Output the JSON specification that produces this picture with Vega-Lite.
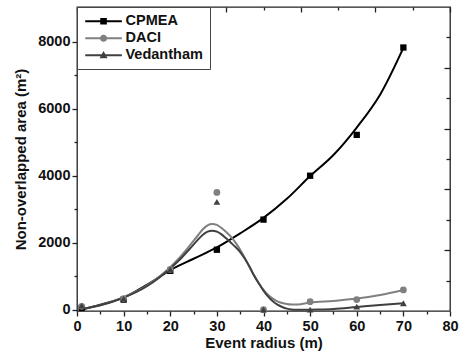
{
  "$schema": "https://vega.github.io/schema/vega-lite/v6.json",
  "width": 373,
  "height": 304,
  "autosize": {"type": "none"},
  "padding": {"left": 77, "top": 7, "right": 15, "bottom": 46},
  "background": "white",
  "config": {
    "view": {"stroke": "#222", "strokeWidth": 1.3},
    "font": "Liberation Sans",
    "axis": {
      "grid": false,
      "domain": false,
      "labelFont": "Liberation Sans",
      "labelFontWeight": "bold",
      "labelFontSize": 14.5,
      "labelColor": "#111",
      "titleFont": "Liberation Sans",
      "titleFontWeight": "bold",
      "titleFontSize": 15,
      "titleColor": "#111",
      "tickColor": "#222",
      "tickWidth": 1.3,
      "labelFlush": false
    }
  },
  "datasets": {
    "curves": [
      {"series": "CPMEA", "x": 1, "y": 0},
      {"series": "CPMEA", "x": 5, "y": 150},
      {"series": "CPMEA", "x": 10, "y": 360},
      {"series": "CPMEA", "x": 15, "y": 740},
      {"series": "CPMEA", "x": 20, "y": 1180},
      {"series": "CPMEA", "x": 25, "y": 1520},
      {"series": "CPMEA", "x": 30, "y": 1860},
      {"series": "CPMEA", "x": 35, "y": 2280},
      {"series": "CPMEA", "x": 40, "y": 2740},
      {"series": "CPMEA", "x": 45, "y": 3310},
      {"series": "CPMEA", "x": 50, "y": 3990},
      {"series": "CPMEA", "x": 55, "y": 4620},
      {"series": "CPMEA", "x": 60, "y": 5440},
      {"series": "CPMEA", "x": 65, "y": 6420},
      {"series": "CPMEA", "x": 70, "y": 7820},
      {"series": "DACI", "x": 1, "y": 20},
      {"series": "DACI", "x": 5, "y": 130},
      {"series": "DACI", "x": 10, "y": 370},
      {"series": "DACI", "x": 15, "y": 720},
      {"series": "DACI", "x": 20, "y": 1270},
      {"series": "DACI", "x": 22, "y": 1550},
      {"series": "DACI", "x": 24, "y": 1880},
      {"series": "DACI", "x": 26, "y": 2230},
      {"series": "DACI", "x": 27, "y": 2400},
      {"series": "DACI", "x": 28, "y": 2520},
      {"series": "DACI", "x": 29, "y": 2560},
      {"series": "DACI", "x": 30, "y": 2530},
      {"series": "DACI", "x": 31, "y": 2440},
      {"series": "DACI", "x": 32, "y": 2320},
      {"series": "DACI", "x": 33, "y": 2180},
      {"series": "DACI", "x": 34, "y": 2000},
      {"series": "DACI", "x": 35, "y": 1790},
      {"series": "DACI", "x": 36, "y": 1540},
      {"series": "DACI", "x": 37, "y": 1280},
      {"series": "DACI", "x": 38, "y": 1020},
      {"series": "DACI", "x": 39, "y": 790},
      {"series": "DACI", "x": 40, "y": 590},
      {"series": "DACI", "x": 41, "y": 440},
      {"series": "DACI", "x": 42, "y": 330},
      {"series": "DACI", "x": 43, "y": 250},
      {"series": "DACI", "x": 44, "y": 200},
      {"series": "DACI", "x": 45, "y": 170},
      {"series": "DACI", "x": 46, "y": 155},
      {"series": "DACI", "x": 47, "y": 155},
      {"series": "DACI", "x": 48, "y": 165},
      {"series": "DACI", "x": 50, "y": 210},
      {"series": "DACI", "x": 55, "y": 260},
      {"series": "DACI", "x": 60, "y": 330},
      {"series": "DACI", "x": 65, "y": 440},
      {"series": "DACI", "x": 70, "y": 590},
      {"series": "Vedantham", "x": 1, "y": 20},
      {"series": "Vedantham", "x": 5, "y": 130},
      {"series": "Vedantham", "x": 10, "y": 360},
      {"series": "Vedantham", "x": 15, "y": 700},
      {"series": "Vedantham", "x": 20, "y": 1230},
      {"series": "Vedantham", "x": 22, "y": 1490},
      {"series": "Vedantham", "x": 24, "y": 1790},
      {"series": "Vedantham", "x": 26, "y": 2100},
      {"series": "Vedantham", "x": 27, "y": 2240},
      {"series": "Vedantham", "x": 28, "y": 2330},
      {"series": "Vedantham", "x": 29, "y": 2360},
      {"series": "Vedantham", "x": 30, "y": 2330},
      {"series": "Vedantham", "x": 31, "y": 2250},
      {"series": "Vedantham", "x": 32, "y": 2130},
      {"series": "Vedantham", "x": 33, "y": 2000},
      {"series": "Vedantham", "x": 34, "y": 1870},
      {"series": "Vedantham", "x": 35, "y": 1720},
      {"series": "Vedantham", "x": 36, "y": 1520},
      {"series": "Vedantham", "x": 37, "y": 1280},
      {"series": "Vedantham", "x": 38, "y": 1010},
      {"series": "Vedantham", "x": 39, "y": 780},
      {"series": "Vedantham", "x": 40, "y": 570},
      {"series": "Vedantham", "x": 41, "y": 390},
      {"series": "Vedantham", "x": 42, "y": 250},
      {"series": "Vedantham", "x": 43, "y": 150},
      {"series": "Vedantham", "x": 44, "y": 80},
      {"series": "Vedantham", "x": 45, "y": 30},
      {"series": "Vedantham", "x": 46, "y": 5},
      {"series": "Vedantham", "x": 47, "y": 0},
      {"series": "Vedantham", "x": 48, "y": 0},
      {"series": "Vedantham", "x": 50, "y": 0},
      {"series": "Vedantham", "x": 52, "y": 5},
      {"series": "Vedantham", "x": 55, "y": 20},
      {"series": "Vedantham", "x": 60, "y": 80},
      {"series": "Vedantham", "x": 65, "y": 140},
      {"series": "Vedantham", "x": 70, "y": 195}
    ],
    "points": [
      {"series": "CPMEA", "x": 1, "y": 50},
      {"series": "CPMEA", "x": 10, "y": 300},
      {"series": "CPMEA", "x": 20, "y": 1160},
      {"series": "CPMEA", "x": 30, "y": 1790},
      {"series": "CPMEA", "x": 40, "y": 2690},
      {"series": "CPMEA", "x": 50, "y": 4000},
      {"series": "CPMEA", "x": 60, "y": 5220},
      {"series": "CPMEA", "x": 70, "y": 7830},
      {"series": "DACI", "x": 1, "y": 100},
      {"series": "DACI", "x": 10, "y": 330},
      {"series": "DACI", "x": 20, "y": 1200},
      {"series": "DACI", "x": 30, "y": 3500},
      {"series": "DACI", "x": 40, "y": 0},
      {"series": "DACI", "x": 50, "y": 240},
      {"series": "DACI", "x": 60, "y": 300},
      {"series": "DACI", "x": 70, "y": 590},
      {"series": "Vedantham", "x": 1, "y": 120},
      {"series": "Vedantham", "x": 10, "y": 330},
      {"series": "Vedantham", "x": 20, "y": 1200},
      {"series": "Vedantham", "x": 30, "y": 3220},
      {"series": "Vedantham", "x": 40, "y": 0},
      {"series": "Vedantham", "x": 50, "y": 0},
      {"series": "Vedantham", "x": 60, "y": 90},
      {"series": "Vedantham", "x": 70, "y": 190}
    ]
  },
  "layer": [
    {
      "data": {"name": "curves"},
      "mark": {"type": "line", "interpolate": "monotone", "strokeWidth": 2},
      "encoding": {
        "x": {
          "field": "x", "type": "quantitative",
          "scale": {"domain": [0, 80], "nice": false, "zero": false},
          "axis": {
            "orient": "bottom",
            "title": "Event radius (m)",
            "values": [0, 10, 20, 30, 40, 50, 60, 70, 80],
            "tickSize": 5,
            "labelPadding": 3,
            "titlePadding": 3
          }
        },
        "y": {
          "field": "y", "type": "quantitative",
          "scale": {"domain": [-40, 9040], "nice": false, "zero": false},
          "axis": {
            "orient": "left",
            "title": "Non-overlapped area (m²)",
            "values": [0, 2000, 4000, 6000, 8000],
            "format": "d",
            "tickSize": 5,
            "labelPadding": 2,
            "titlePadding": 9
          }
        },
        "color": {
          "field": "series", "type": "nominal",
          "scale": {"domain": ["CPMEA", "DACI", "Vedantham"], "range": ["#000000", "#808080", "#404040"]}
        }
      }
    },
    {
      "data": {"name": "points"},
      "transform": [{"filter": "datum.series === 'CPMEA'"}],
      "mark": {"type": "point", "shape": "square", "filled": true, "opacity": 1, "size": 40},
      "encoding": {
        "x": {
          "field": "x", "type": "quantitative",
          "scale": {"domain": [0, 80], "nice": false, "zero": false},
          "axis": {"orient": "bottom", "title": null, "labels": false, "values": [5, 15, 25, 35, 45, 55, 65, 75], "tickSize": 3}
        },
        "y": {
          "field": "y", "type": "quantitative",
          "scale": {"domain": [-40, 9040], "nice": false, "zero": false},
          "axis": {"orient": "left", "title": null, "labels": false, "values": [1000, 3000, 5000, 7000], "tickSize": 3}
        },
        "color": {
          "field": "series", "type": "nominal",
          "scale": {"domain": ["CPMEA", "DACI", "Vedantham"], "range": ["#000000", "#808080", "#404040"]}
        }
      }
    },
    {
      "data": {"name": "points"},
      "transform": [{"filter": "datum.series === 'DACI'"}],
      "mark": {"type": "point", "shape": "circle", "filled": true, "opacity": 1, "size": 46},
      "encoding": {
        "x": {
          "field": "x", "type": "quantitative",
          "scale": {"domain": [0, 80], "nice": false, "zero": false},
          "axis": {"orient": "top", "title": null, "labels": false, "values": [0, 16, 32, 48, 64, 80], "tickSize": 5, "offset": -5}
        },
        "y": {
          "field": "y", "type": "quantitative",
          "scale": {"domain": [-40, 9040], "nice": false, "zero": false},
          "axis": {"orient": "right", "title": null, "labels": false, "values": [1776, 3592, 5408, 7224], "tickSize": 6, "offset": -6}
        },
        "color": {
          "field": "series", "type": "nominal",
          "scale": {"domain": ["CPMEA", "DACI", "Vedantham"], "range": ["#000000", "#808080", "#404040"]}
        }
      }
    },
    {
      "data": {"name": "points"},
      "transform": [{"filter": "datum.series === 'Vedantham'"}],
      "mark": {"type": "point", "shape": "triangle-up", "filled": true, "opacity": 1, "size": 46},
      "encoding": {
        "x": {
          "field": "x", "type": "quantitative",
          "scale": {"domain": [0, 80], "nice": false, "zero": false},
          "axis": {"orient": "top", "title": null, "labels": false, "values": [8, 24, 40, 56, 72], "tickSize": 3, "offset": -3}
        },
        "y": {
          "field": "y", "type": "quantitative",
          "scale": {"domain": [-40, 9040], "nice": false, "zero": false},
          "axis": {"orient": "right", "title": null, "labels": false, "values": [868, 2684, 4500, 6316, 8132], "tickSize": 4, "offset": -4}
        },
        "color": {
          "field": "series", "type": "nominal",
          "scale": {"domain": ["CPMEA", "DACI", "Vedantham"], "range": ["#000000", "#808080", "#404040"]}
        }
      }
    },
    {
      "data": {"name": "points"},
      "mark": {"type": "point", "filled": true, "opacity": 0},
      "encoding": {
        "x": {"field": "x", "type": "quantitative", "scale": {"domain": [0, 80], "nice": false, "zero": false}, "axis": null},
        "y": {"field": "y", "type": "quantitative", "scale": {"domain": [-40, 9040], "nice": false, "zero": false}, "axis": null},
        "color": {
          "field": "series", "type": "nominal",
          "scale": {"domain": ["CPMEA", "DACI", "Vedantham"], "range": ["#000000", "#808080", "#404040"]},
          "legend": {
            "title": null, "orient": "top-left", "offset": 0, "padding": 7, "rowPadding": 2,
            "symbolSize": 144, "symbolStrokeWidth": 0, "labelOffset": 27,
            "labelFont": "Liberation Sans", "labelFontWeight": "bold", "labelFontSize": 14.5, "labelColor": "#111",
            "strokeColor": "#444", "fillColor": "white"
          }
        },
        "shape": {
          "field": "series", "type": "nominal",
          "scale": {
            "domain": ["CPMEA", "DACI", "Vedantham"],
            "range": [
              "M-1,-0.17H5.1V0.17H-1ZM1.5,-0.55H2.6V0.55H1.5Z",
              "M-1,-0.17H5.1V0.17H-1ZM2.65,0A0.6,0.6,0,1,1,1.45,0A0.6,0.6,0,1,1,2.65,0Z",
              "M-1,-0.17H5.1V0.17H-1ZM2.05,-0.7L2.72,0.5H1.38Z"
            ]
          },
          "legend": {
            "title": null, "orient": "top-left", "offset": 0, "padding": 7, "rowPadding": 2,
            "symbolSize": 144, "symbolStrokeWidth": 0, "labelOffset": 27,
            "labelFont": "Liberation Sans", "labelFontWeight": "bold", "labelFontSize": 14.5, "labelColor": "#111",
            "strokeColor": "#444", "fillColor": "white"
          }
        }
      }
    }
  ],
  "resolve": {
    "axis": {"x": "independent", "y": "independent"}
  }
}
